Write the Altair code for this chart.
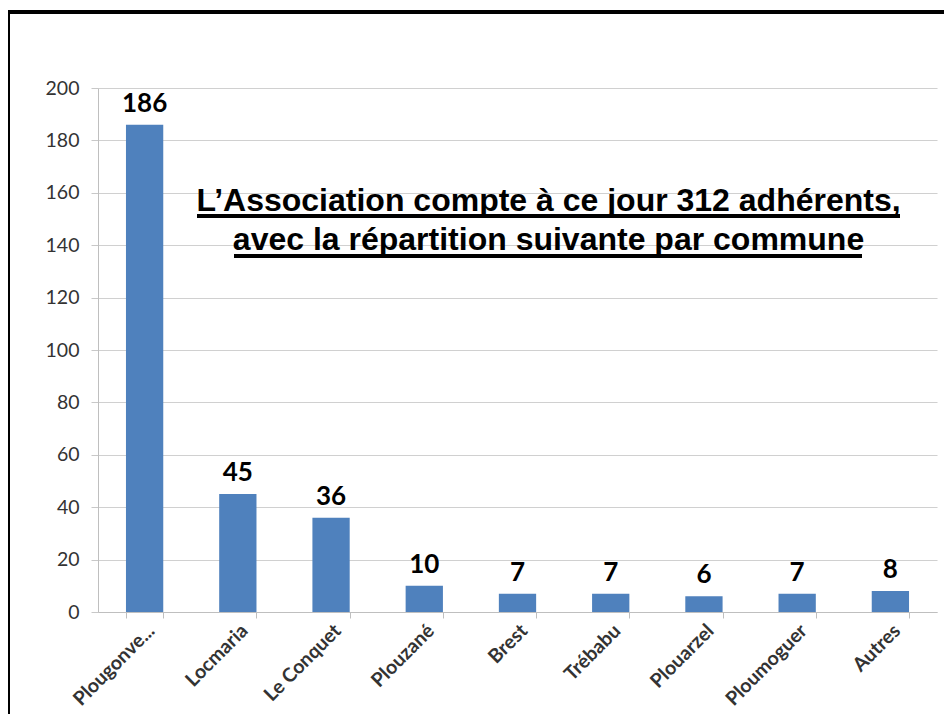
import altair as alt
import pandas as pd

communes = ["Plougonve...", "Locmaria", "Le Conquet", "Plouzané", "Brest",
            "Trébabu", "Plouarzel", "Ploumoguer", "Autres"]
adherents = [186, 45, 36, 10, 7, 7, 6, 7, 8]
title_lines = ["L\u2019Association compte à ce jour 312 adhérents,",
               "avec la répartition suivante par commune"]

df = pd.DataFrame({"commune": communes, "n": adherents})

W, H = 839, 524

x_enc = alt.X("commune:N", sort=communes, title=None,
              scale=alt.Scale(paddingInner=0.6, paddingOuter=0.3),
              axis=alt.Axis(labelAngle=315, labelAlign="right", labelBaseline="top",
                            labelFont="Lato", labelFontSize=19.5, labelFontWeight="bold",
                            labelColor="#333333", labelPadding=3,
                            tickBand="extent", tickSize=6, tickColor="#BFBFBF",
                            domainColor="#BFBFBF", grid=False))
y_enc = alt.Y("n:Q", title=None,
              scale=alt.Scale(domain=[0, 200], nice=False),
              axis=alt.Axis(values=list(range(0, 201, 20)), labelFont="Lato",
                            labelFontSize=19.5, labelColor="#333333", labelPadding=12,
                            tickSize=7, tickColor="#C8C8C8", domainColor="#BFBFBF",
                            gridColor="#D0D0D0", gridWidth=1.2))

base = alt.Chart(df)
bars = base.mark_bar(color="#4F81BD").encode(x=x_enc, y=y_enc)
labels = base.mark_text(font="Lato", fontSize=26, fontWeight="bold", color="black",
                        baseline="alphabetic", dy=-13).encode(
    x=alt.X("commune:N", sort=communes), y="n:Q", text="n:Q")

title1 = alt.Chart(pd.DataFrame({"t": [title_lines[0]]})).mark_text(
    font="Liberation Sans", fontSize=32, fontWeight="bold", color="black",
    baseline="alphabetic", align="center").encode(
    x=alt.value(450.5), y=alt.value(123), text="t:N")
title2 = alt.Chart(pd.DataFrame({"t": [title_lines[1]]})).mark_text(
    font="Liberation Sans", fontSize=32, fontWeight="bold", color="black",
    baseline="alphabetic", align="center").encode(
    x=alt.value(450.5), y=alt.value(162), text="t:N")
ul1 = alt.Chart(df).mark_rule(color="black", strokeWidth=3).encode(
    x=alt.value(99), x2=alt.value(802), y=alt.value(128))
ul2 = alt.Chart(df).mark_rule(color="black", strokeWidth=3).encode(
    x=alt.value(136), x2=alt.value(764), y=alt.value(168))
frame = alt.Chart(df).mark_rect(filled=False, stroke="black", strokeWidth=3).encode(
    x=alt.value(-89.5), x2=alt.value(900), y=alt.value(-76), y2=alt.value(700))

chart = alt.layer(bars, labels, title1, title2, ul1, ul2, frame).properties(
    width=W, height=H,
    autosize=alt.AutoSizeParams(type="none"),
    padding={"left": 90, "top": 80, "right": 7, "bottom": 102},
    background="white",
).configure_view(stroke=None)

chart.save("out.html", embed_options={"renderer": "svg", "actions": False})
